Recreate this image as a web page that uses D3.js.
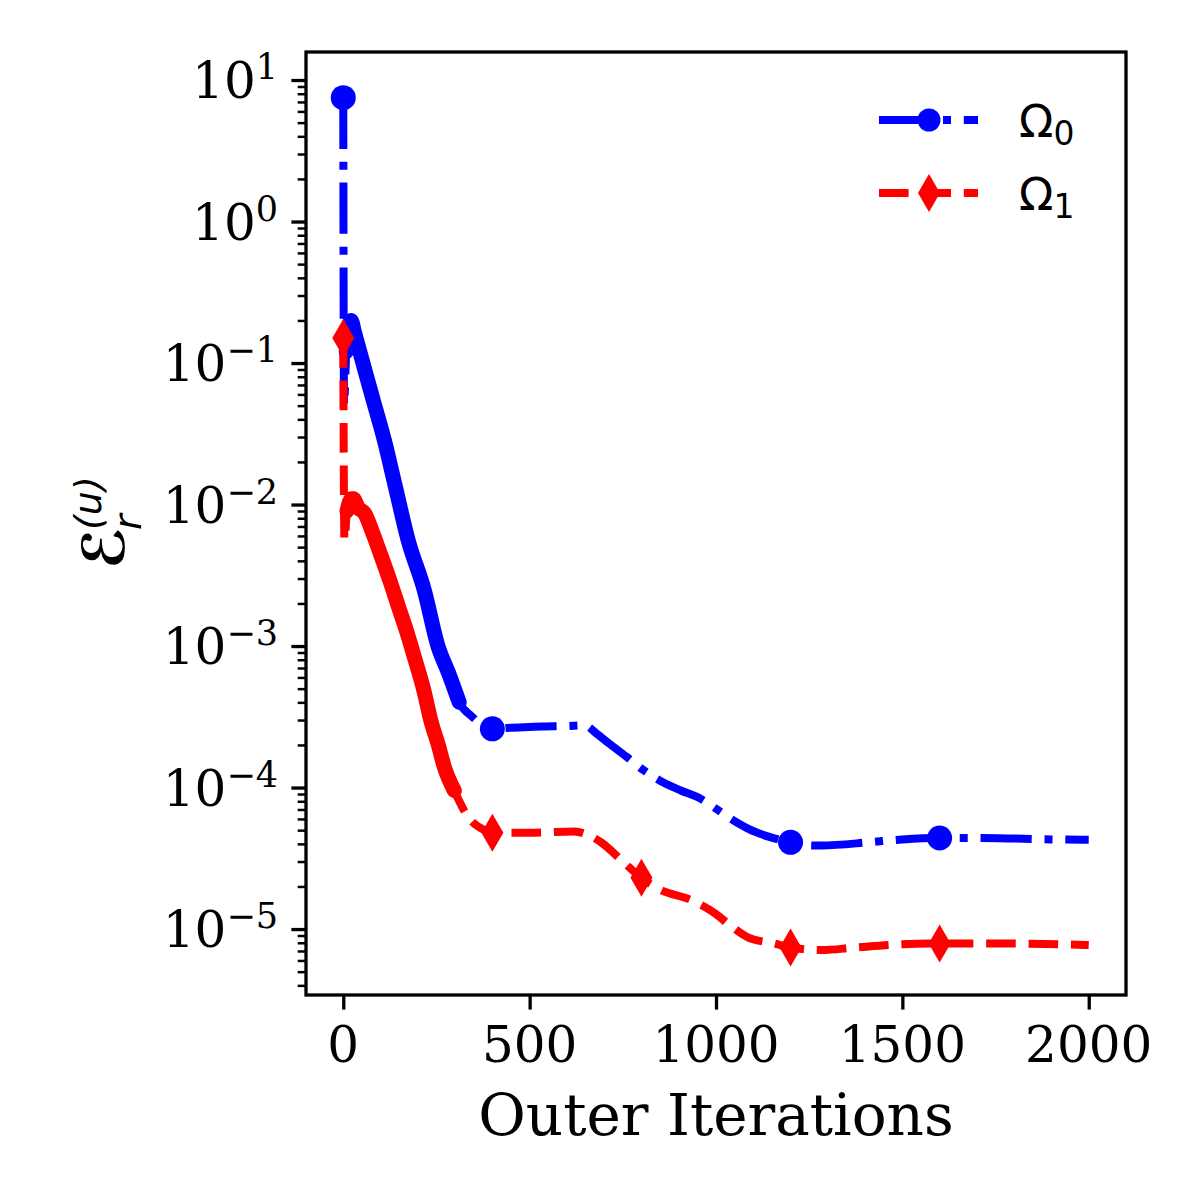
<!DOCTYPE html>
<html>
<head>
<meta charset="utf-8">
<script src="https://cdn.jsdelivr.net/npm/d3@7"></script>
<style>body{margin:0;background:#fff}</style>
</head>
<body>
<div id="chart"></div>
<script>
// values
const omega0Iter = [0, 2, 8, 15, 21, 30, 56, 80, 110, 140, 174, 217, 255, 282, 311, 344, 400, 450, 500, 533, 600, 647, 680, 711, 760, 805, 860, 907, 953, 996, 1040, 1087, 1141, 1200, 1260, 1283, 1409, 1500, 1600, 1700, 1801, 1900, 2000];
const omega0Err = [7.5, 0.05, 0.12, 0.18, 0.2, 0.165, 0.093, 0.055, 0.0286, 0.0133, 0.0056, 0.0025, 0.00098, 0.00065, 0.0004, 0.00032, 0.00026, 0.000265, 0.000268, 0.00027, 0.000272, 0.000275, 0.00024, 0.000207, 0.000165, 0.000133, 0.000108, 0.000095, 0.000085, 0.000072, 0.00006, 0.000051, 0.000045, 0.000041, 0.000039, 0.000039, 0.000041, 0.000043, 0.000044, 0.000044, 0.0000436, 0.000043, 0.0000427];
const omega1Iter = [0, 3, 10, 22, 27, 40, 57, 80, 102, 125, 148, 170, 191, 215, 236, 255, 271, 298, 335, 379, 400, 513, 620, 650, 692, 750, 800, 850, 934, 996, 1040, 1087, 1157, 1200, 1283, 1372, 1500, 1600, 1800, 2000];
const omega1Err = [0.15, 0.0056, 0.009, 0.011, 0.011, 0.0095, 0.0087, 0.0062, 0.0043, 0.0029, 0.0019, 0.00127, 0.00083, 0.0005, 0.00029, 0.0002, 0.00014, 0.000095, 0.000062, 0.00005, 0.000048, 0.000048, 0.000049, 0.000047, 0.000041, 0.00003, 0.000023, 0.000019, 0.000016, 0.000013, 0.0000105, 0.0000087, 0.0000079, 0.0000074, 0.0000071, 0.0000074, 0.0000078, 0.0000079, 0.0000079, 0.0000077];
const markerIter = [0, 400, 800, 1200, 1600];
// stretch where the curves oscillate so fast they read as a thick solid band
const omega0Noisy = [8, 311];
const omega1Noisy = [10, 298];
const xTicks = [0, 500, 1000, 1500, 2000];
const yExponents = [1, 0, -1, -2, -3, -4, -5];
const legendSubs = ["0", "1"];

var margin = {top: 52, right: 74, bottom: 205, left: 306},
  width = 1200 - margin.left - margin.right,
  height = 1200 - margin.top - margin.bottom;

var svg = d3.select("#chart")
  .append("svg")
    .attr("width", 1200)
    .attr("height", 1200)
    .style("font-family", "DejaVu Serif");

var g = svg.append("g")
  .attr("transform", "translate(" + margin.left + "," + margin.top + ")");

var x = d3.scaleLinear().domain([-100, 2100]).range([0, width]);
var y = d3.scaleLog().domain([Math.pow(10, -5.466), Math.pow(10, 1.198)]).range([height, 0]);

g.append("clipPath").attr("id", "clip")
  .append("rect").attr("width", width).attr("height", height);

var line = d3.line()
  .curve(d3.curveMonotoneX)
  .x(function(d) { return x(d[0]); })
  .y(function(d) { return y(d[1]); });

function rows(iters, errs) {
  return iters.map(function(it, i) { return [it, errs[i]]; });
}

var series = [
  {rows: rows(omega0Iter, omega0Err), noisy: omega0Noisy, color: "#0000ff", dash: "51.2,12.8,8,12.8", marker: "circle"},
  {rows: rows(omega1Iter, omega1Err), noisy: omega1Noisy, color: "#ff0000", dash: "29.6,12.8", marker: "diamond"}
];

var diamond = "M0,-19L11,0L0,19L-11,0Z";

var plot = g.append("g").attr("clip-path", "url(#clip)");

series.forEach(function(s) {
  var sg = plot.append("g");
  sg.append("path")
    .attr("d", line(s.rows))
    .style("fill", "none")
    .style("stroke", s.color)
    .style("stroke-width", 8)
    .style("stroke-dasharray", s.dash)
    .style("stroke-linejoin", "round");
  // the dense oscillating part
  sg.append("path")
    .attr("d", line(s.rows.filter(function(d) { return d[0] >= s.noisy[0] && d[0] <= s.noisy[1]; })))
    .style("fill", "none")
    .style("stroke", s.color)
    .style("stroke-width", 15)
    .style("stroke-linejoin", "round")
    .style("stroke-linecap", "round");
  var pts = s.rows.filter(function(d) { return markerIter.indexOf(d[0]) >= 0; });
  if (s.marker === "circle") {
    sg.selectAll("circle").data(pts).enter().append("circle")
      .attr("cx", function(d) { return x(d[0]); })
      .attr("cy", function(d) { return y(d[1]); })
      .attr("r", 12.5)
      .style("fill", s.color);
  } else {
    sg.selectAll(".mk").data(pts).enter().append("path")
      .attr("class", "mk")
      .attr("d", diamond)
      .attr("transform", function(d) { return "translate(" + x(d[0]) + "," + y(d[1]) + ")"; })
      .style("fill", s.color);
  }
});

// axes
var majorY = yExponents.map(function(e) { return Math.pow(10, e); });
var minorY = [];
for (var e = -6; e <= 1; e++) {
  for (var m = 2; m <= 9; m++) {
    var v = m * Math.pow(10, e);
    if (v >= y.domain()[0] && v <= y.domain()[1]) minorY.push(v);
  }
}

var yMinor = g.append("g")
  .call(d3.axisLeft(y).tickValues(minorY).tickSize(8.3).tickFormat(""));
yMinor.select(".domain").remove();
yMinor.selectAll("line").style("stroke", "#000").style("stroke-width", 2.5);

var yMajor = g.append("g")
  .call(d3.axisLeft(y).tickValues(majorY).tickSize(14.6).tickFormat(""));
yMajor.select(".domain").remove();
yMajor.selectAll("line").style("stroke", "#000").style("stroke-width", 3.3);

var yLab = g.selectAll(".ylab").data(yExponents).enter().append("text")
  .attr("class", "ylab")
  .attr("x", -28)
  .attr("y", function(d) { return y(Math.pow(10, d)) + 18; })
  .attr("text-anchor", "end")
  .style("font-size", "50px");
yLab.append("tspan").text("10");
yLab.append("tspan")
  .attr("dy", -19)
  .style("font-size", "35px")
  .text(function(d) { return d < 0 ? "\u2212" + (-d) : String(d); });

var xAxis = g.append("g")
  .attr("transform", "translate(0," + height + ")")
  .call(d3.axisBottom(x).tickValues(xTicks).tickSize(14.6).tickFormat(""));
xAxis.select(".domain").remove();
xAxis.selectAll("line").style("stroke", "#000").style("stroke-width", 3.3);

g.selectAll(".xlab").data(xTicks).enter().append("text")
  .attr("class", "xlab")
  .attr("x", function(d) { return x(d); })
  .attr("y", height + 67)
  .attr("text-anchor", "middle")
  .style("font-size", "50px")
  .text(function(d) { return d; });

// frame
g.append("rect")
  .attr("width", width).attr("height", height)
  .style("fill", "none").style("stroke", "#000").style("stroke-width", 3.3);

// axis titles
svg.append("text")
  .attr("x", margin.left + width / 2)
  .attr("y", 1135)
  .attr("text-anchor", "middle")
  .style("font-size", "58px")
  .text("Outer Iterations");

var yt = svg.append("g")
  .attr("transform", "translate(124,569) rotate(-90)")
  .style("font-family", "DejaVu Sans");
yt.append("text").attr("x", 0).attr("y", 0).style("font-size", "58px").style("font-weight", "bold").text("\u2130");
yt.append("text").attr("x", 39).attr("y", 17).style("font-size", "38px").style("font-style", "italic").text("r");
yt.append("text").attr("x", 39).attr("y", -23).style("font-size", "38px").style("font-style", "italic").text("(u)");

// legend
var legend = svg.append("g").style("font-family", "DejaVu Sans");
series.forEach(function(s, i) {
  var ly = 120 + i * 73;
  legend.append("line")
    .attr("x1", 879).attr("x2", 978).attr("y1", ly).attr("y2", ly)
    .style("stroke", s.color).style("stroke-width", 8)
    .style("stroke-dasharray", s.dash);
  if (s.marker === "circle") {
    legend.append("circle").attr("cx", 929).attr("cy", ly).attr("r", 11.5).style("fill", s.color);
  } else {
    legend.append("path").attr("d", diamond)
      .attr("transform", "translate(929," + ly + ")").style("fill", s.color);
  }
  var t = legend.append("text").attr("x", 1019).attr("y", ly + 17).style("font-size", "45px");
  t.append("tspan").text("\u03a9");
  t.append("tspan").attr("dy", 8).style("font-size", "33px").text(legendSubs[i]);
});
</script>
</body>
</html>
